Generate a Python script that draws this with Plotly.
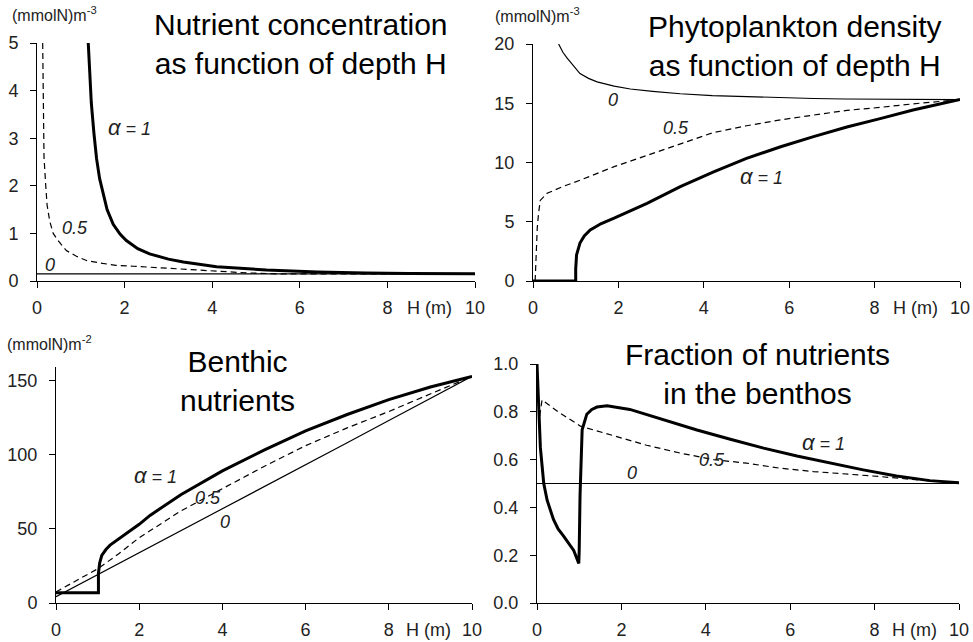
import plotly.graph_objects as go

FONT = "Liberation Sans, Arial, sans-serif"
W, H = 973, 642

# ---------- data (H in m) ----------
# Nutrient concentration, (mmolN) m^-3
nut_h_a0 = [0, 10]
nut_a0 = [0.15, 0.15]
nut_h_a05 = [0.13, 0.14, 0.16, 0.2, 0.23, 0.29, 0.37, 0.48, 0.67, 0.9, 1.13, 1.5, 1.8,
             2.2, 2.57, 3.3, 4.0, 4.8, 5.5, 7.0, 10]
nut_a05 = [5.0, 3.5, 2.6, 2.0, 1.6, 1.26, 1.0, 0.85, 0.64, 0.52, 0.43, 0.37, 0.33,
           0.31, 0.29, 0.24, 0.2, 0.17, 0.15, 0.15, 0.15]
nut_h_a1 = [1.17, 1.2, 1.24, 1.3, 1.36, 1.43, 1.51, 1.6, 1.74, 1.9, 2.04, 2.3, 2.57,
            3.0, 3.34, 4.1, 5.24, 6.4, 7.5, 8.5, 10]
nut_a1 = [5.0, 4.43, 3.74, 3.1, 2.57, 2.15, 1.81, 1.5, 1.19, 0.98, 0.85, 0.68, 0.57,
          0.46, 0.4, 0.3, 0.23, 0.19, 0.17, 0.155, 0.15]

# Phytoplankton density, (mmolN) m^-3
phy_h_a0 = [0.6, 0.7, 0.8, 0.95, 1.1, 1.3, 1.5, 1.9, 2.28, 2.8, 3.45, 4.2, 5.0, 5.8,
            6.57, 7.3, 8.13, 9.0, 10]
phy_a0 = [20, 19.3, 18.8, 18.1, 17.5, 17.1, 16.8, 16.45, 16.2, 16.0, 15.8, 15.65,
          15.55, 15.47, 15.4, 15.36, 15.33, 15.31, 15.3]
phy_h_a05 = [0.05, 0.07, 0.1, 0.13, 0.17, 0.33, 0.72, 1.1, 1.5, 1.9, 2.67, 3.45, 4.2,
             5.0, 5.8, 6.57, 7.35, 8.13, 8.9, 10]
phy_a05 = [0, 2.0, 4.5, 5.7, 6.8, 7.4, 8.0, 8.5, 9.1, 9.65, 10.6, 11.6, 12.5, 13.1,
           13.6, 14.0, 14.4, 14.65, 14.95, 15.3]
phy_h_a1 = [0, 1.0, 1.0, 1.02, 1.1, 1.2, 1.34, 1.6, 1.9, 2.3, 2.67, 3.45, 4.23, 5.0,
            5.8, 6.57, 7.35, 8.13, 8.9, 10]
phy_a1 = [0, 0, 1.0, 2.2, 3.2, 3.8, 4.3, 4.85, 5.3, 5.95, 6.55, 7.96, 9.2, 10.35,
          11.33, 12.18, 13.0, 13.7, 14.43, 15.33]

# Benthic nutrients, (mmolN) m^-2
ben_h_a0 = [0, 1, 2, 3, 4, 5, 6, 7, 8, 9, 10]
ben_a0 = [4.2, 19, 33.5, 48.5, 63.5, 78, 93, 108, 123, 138, 152.7]
ben_h_a05 = [0, 0.5, 1, 1.5, 2, 3, 4, 5, 6, 7, 8, 9, 10]
ben_a05 = [7.5, 15, 23, 33, 44, 62, 77, 92, 106, 118, 129, 141, 152.7]
ben_h_a1 = [0, 1.02, 1.02, 1.05, 1.1, 1.2, 1.3, 1.6, 2, 2.26, 3, 4, 5, 6, 7, 8, 9, 10]
ben_a1 = [6.9, 6.9, 20, 27, 32, 36, 39, 45, 53, 59, 73, 89, 103, 116, 127, 137,
          145.5, 152.7]

# Fraction of nutrients in the benthos
frc_h_a0 = [0, 10]
frc_a0 = [0.5, 0.5]
frc_h_a05 = [0.05, 0.07, 0.12, 0.5, 1.03, 1.8, 2.6, 3.4, 4.18, 4.97, 5.76, 6.55, 7.34,
             8.13, 8.9, 10]
frc_a05 = [0.74, 0.79, 0.85, 0.8, 0.74, 0.7, 0.66, 0.627, 0.6, 0.585, 0.564, 0.55,
           0.54, 0.529, 0.517, 0.503]
frc_h_a1 = [0, 0.02, 0.04, 0.08, 0.16, 0.24, 0.39, 0.5, 0.63, 0.75, 0.87, 0.99, 1.0,
            1.02, 1.07, 1.18, 1.3, 1.42, 1.66, 2.2, 3.0, 3.79, 4.58, 5.37, 6.16, 6.95,
            7.73, 8.52, 9.31, 10]
frc_a1 = [1.0, 0.9, 0.79, 0.65, 0.5, 0.43, 0.35, 0.31, 0.28, 0.25, 0.22, 0.165, 0.22,
          0.45, 0.725, 0.79, 0.81, 0.82, 0.825, 0.81, 0.766, 0.724, 0.685, 0.648,
          0.615, 0.585, 0.557, 0.531, 0.512, 0.503]

x_ticks = [0, 2, 4, 6, 8, 10]

# panel: (suffix, x pixel span, y pixel span (bottom, top), y range, y dtick, tick format)
PANELS = [
    ("", (37, 475), (281, 43), (0, 5), 1, None),
    ("2", (533, 960), (281, 44), (0, 20), 5, None),
    ("3", (56, 472), (603, 367), (0, 159), 50, None),
    ("4", (537, 959), (603, 364), (0, 1), 0.2, ".1f"),
]

SERIES = [
    [(nut_h_a0, nut_a0), (nut_h_a05, nut_a05), (nut_h_a1, nut_a1)],
    [(phy_h_a0, phy_a0), (phy_h_a05, phy_a05), (phy_h_a1, phy_a1)],
    [(ben_h_a0, ben_a0), (ben_h_a05, ben_a05), (ben_h_a1, ben_a1)],
    [(frc_h_a0, frc_a0), (frc_h_a05, frc_a05), (frc_h_a1, frc_a1)],
]
STYLES = [dict(color="black", width=1.2),
          dict(color="black", width=1.2, dash="6px,4px"),
          dict(color="black", width=3)]

fig = go.Figure()
layout = {}
for (sfx, (x0, x1), (yb, yt), yr, dt, fmt), series in zip(PANELS, SERIES):
    for (hx, vy), st in zip(series, STYLES):
        fig.add_trace(go.Scatter(x=hx, y=vy, mode="lines", line=st,
                                 xaxis="x" + sfx, yaxis="y" + sfx,
                                 hoverinfo="skip"))
    common = dict(showline=True, linecolor="black", linewidth=1, ticks="outside",
                  ticklen=6, tickcolor="black", tickwidth=1, showgrid=False,
                  zeroline=False, automargin=False,
                  tickfont=dict(family=FONT, size=18, color="#222"),
                  fixedrange=True)
    layout["xaxis" + sfx] = dict(common, domain=[x0 / W, x1 / W], range=[0, 10],
                                 tickvals=x_ticks, anchor="y" + sfx,
                                 ticklabelstandoff=4)
    layout["yaxis" + sfx] = dict(common, domain=[1 - yb / H, 1 - yt / H],
                                 range=list(yr), dtick=dt, tick0=0,
                                 anchor="x" + sfx, ticklabelstandoff=8,
                                 tickformat=fmt)

fig.update_layout(**layout)

ann = []
# panel titles
for txt, cx, top in [("Nutrient concentration<br>as function of depth H", 301, 6),
                     ("Phytoplankton density<br>as function of depth H", 795, 8),
                     ("Benthic<br>nutrients", 237, 343),
                     ("Fraction of nutrients<br>in the benthos", 757, 336)]:
    ann.append(dict(text=txt, x=cx / W, y=1 - top / H, xref="paper", yref="paper",
                    xanchor="center", yanchor="top", showarrow=False,
                    font=dict(family=FONT, size=30, color="black")))
# unit labels
for txt, lx, top in [("(mmolN)m<sup>-3</sup>", 10, 2),
                     ("(mmolN)m<sup>-3</sup>", 493, 3),
                     ("(mmolN)m<sup>-2</sup>", 5, 331)]:
    ann.append(dict(text=txt, x=lx / W, y=1 - top / H, xref="paper", yref="paper",
                    xanchor="left", yanchor="top", showarrow=False,
                    font=dict(family=FONT, size=16, color="#222")))
# "H (m)" next to the last tick
for sfx in ["", "2", "3", "4"]:
    ann.append(dict(text="H (m)", x=8.95, y=0, xref="x" + sfx,
                    yref=("y" + sfx) + " domain", yanchor="middle", yshift=-27,
                    showarrow=False, font=dict(family=FONT, size=18, color="#222")))
# curve labels
ALPHA = "<i><span style='font-size:22px'>α</span> = 1</i>"
for sfx, pts in [("", [(ALPHA, 2.12, 3.23), ("<i>0.5</i>", 0.87, 1.11), ("<i>0</i>", 0.3, 0.34)]),
                 ("2", [(ALPHA, 5.36, 8.8), ("<i>0.5</i>", 3.35, 12.9), ("<i>0</i>", 1.87, 15.3)]),
                 ("3", [(ALPHA, 2.4, 86), ("<i>0.5</i>", 3.65, 70.6), ("<i>0</i>", 4.06, 54.5)]),
                 ("4", [(ALPHA, 6.8, 0.67), ("<i>0.5</i>", 4.15, 0.6), ("<i>0</i>", 2.25, 0.544)])]:
    for txt, xv, yv in pts:
        ann.append(dict(text=txt, x=xv, y=yv, xref="x" + sfx, yref="y" + sfx,
                        showarrow=False,
                        font=dict(family=FONT, size=18, color="#222")))

fig.update_layout(
    annotations=ann,
    width=W, height=H,
    margin=dict(l=0, r=0, t=0, b=0),
    paper_bgcolor="white", plot_bgcolor="white",
    showlegend=False,
    font=dict(family=FONT, color="#222"),
)

# drop the browser's default 8px body margin so the figure sits at the page corner
fig.write_html("out.html", config={"displayModeBar": False},
               post_script="document.body.style.margin='0';")
